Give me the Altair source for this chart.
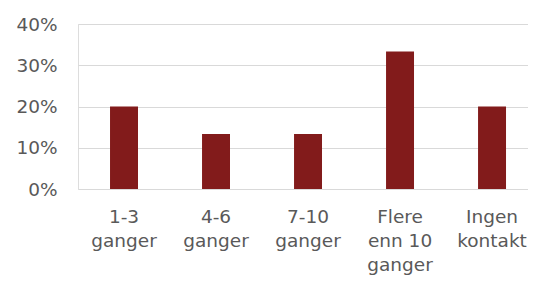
import altair as alt
import pandas as pd

categories = ["1-3\nganger", "4-6\nganger", "7-10\nganger", "Flere\nenn 10\nganger", "Ingen\nkontakt"]
values = [0.20, 0.1333, 0.1333, 0.3333, 0.20]
y_ticks = [0, 0.1, 0.2, 0.3, 0.4]

FONT = "DejaVu Sans"
df = pd.DataFrame({"kategori": categories, "andel": values})

chart = alt.Chart(df).mark_bar(color="#821b1b").encode(
    x=alt.X(
        "kategori:N",
        sort=categories,
        title=None,
        scale=alt.Scale(paddingInner=0.696, paddingOuter=0.2935, align=0.593),
        axis=alt.Axis(
            labelAngle=0,
            labelExpr="split(datum.value, '\\n')",
            labelFont=FONT,
            labelFontSize=18.5,
            labelColor="#595959",
            labelLineHeight=24,
            labelBaseline="top",
            labelPadding=18,
            ticks=False,
            domain=False,
            labelLimit=200,
        ),
    ),
    y=alt.Y(
        "andel:Q",
        title=None,
        scale=alt.Scale(domain=[0, 0.4], nice=False),
        axis=alt.Axis(
            values=y_ticks,
            format=".0%",
            labelFont=FONT,
            labelFontSize=18.5,
            labelColor="#595959",
            labelPadding=21,
            ticks=False,
            domain=False,
            grid=True,
            gridColor="#d9d9d9",
            gridWidth=1,
        ),
    ),
).properties(
    width=450,
    height=165,
    autosize=alt.AutoSizeParams(type="none"),
    padding={"left": 70, "top": 16, "right": 0, "bottom": 90},
).configure_view(stroke=None).configure(background="white")

chart.save("out.html", embed_options={"renderer": "svg", "actions": False})
